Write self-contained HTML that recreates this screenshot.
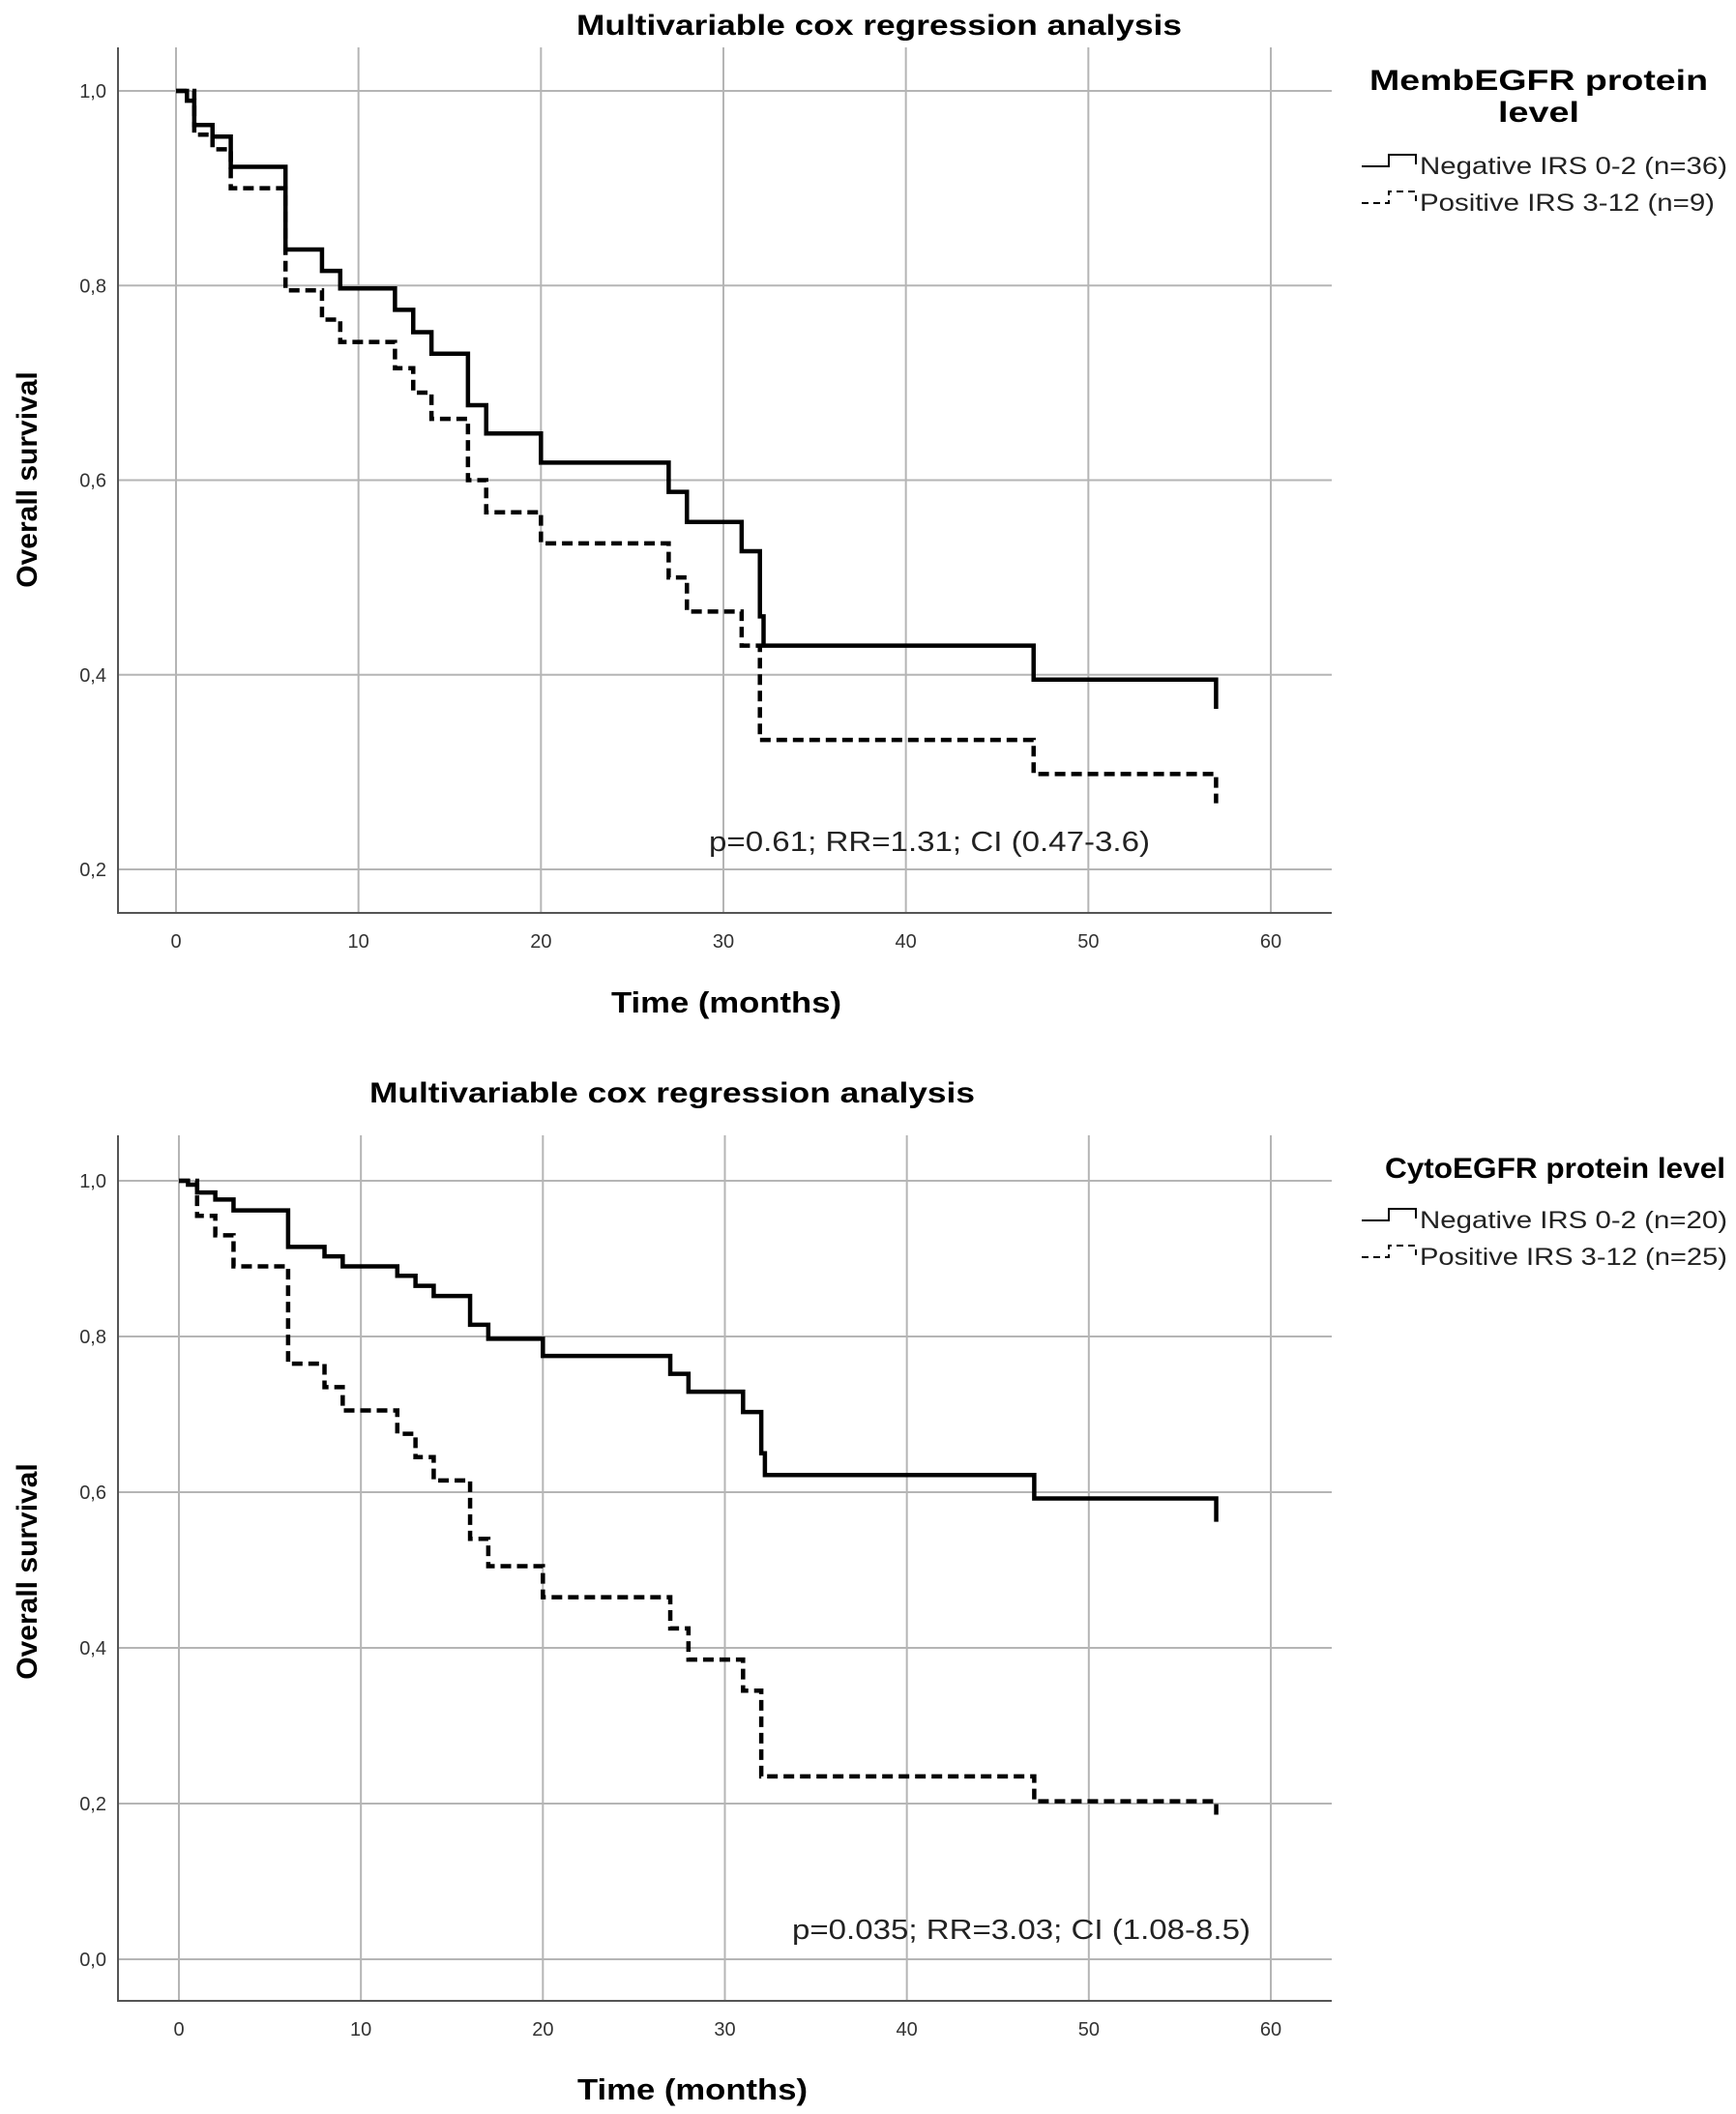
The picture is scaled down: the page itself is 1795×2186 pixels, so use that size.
<!DOCTYPE html>
<html><head><meta charset="utf-8"><style>
html,body{margin:0;padding:0;background:#fff;}
svg{display:block;font-family:"Liberation Sans",sans-serif;}
</style></head><body>
<svg id="chart" width="1795" height="2186" viewBox="0 0 1795 2186" xmlns="http://www.w3.org/2000/svg"></svg>
<script>
const xTicks=[0,10,20,30,40,50,60];
const topYTicks=[0.2,0.4,0.6,0.8,1.0];
const botYTicks=[0.0,0.2,0.4,0.6,0.8,1.0];
const topNegT=[0,0.6,1,2,3,6,8,9,12,13,14,16,17,20,27,28,31,32,32.2,47,57];
const topNegS=[1.0,0.99,0.965,0.953,0.922,0.837,0.815,0.797,0.775,0.752,0.73,0.677,0.648,0.618,0.588,0.557,0.527,0.46,0.43,0.395,0.365];
const topPosT=[0,1,2,3,6,8,9,12,13,14,16,17,20,27,28,31,32,47,57];
const topPosS=[1.0,0.955,0.94,0.90,0.795,0.765,0.742,0.715,0.69,0.663,0.60,0.567,0.535,0.50,0.465,0.43,0.333,0.298,0.268];
const botNegT=[0,0.5,1,2,3,6,8,9,12,13,14,16,17,20,27,28,31,32,32.2,47,57];
const botNegS=[1.0,0.995,0.985,0.976,0.962,0.915,0.903,0.89,0.878,0.865,0.852,0.815,0.797,0.775,0.752,0.729,0.703,0.65,0.622,0.592,0.562];
const botPosT=[0,1,2,3,6,8,9,12,13,14,16,17,20,27,28,31,32,47,57];
const botPosS=[1.0,0.955,0.93,0.89,0.765,0.735,0.705,0.675,0.645,0.615,0.54,0.505,0.465,0.425,0.385,0.345,0.235,0.203,0.185];

const NS="http://www.w3.org/2000/svg";
const svg=document.getElementById('chart');
function mk(tag,attrs,parent){const e=document.createElementNS(NS,tag);for(const k in attrs)e.setAttribute(k,attrs[k]);(parent||svg).appendChild(e);return e;}

function panel(cfg){
  const g=mk('g',{});
  
  
  const sx=t=>cfg.x0+(cfg.x60-cfg.x0)*t/60;
  const sy=v=>cfg.y1+(cfg.y1-cfg.yRef)*(v-1)/(1-cfg.refV);
  xTicks.forEach(t=>{const l=mk('line',{x1:sx(t),x2:sx(t),y1:cfg.top,y2:cfg.bottom,stroke:'#b5b5b5','stroke-width':2},g);
    
    const tx=mk('text',{x:sx(t),y:cfg.bottom+36,'font-size':20,'text-anchor':'middle',fill:'#333'},g);tx.textContent=t;
    });
  cfg.yt.forEach(v=>{const l=mk('line',{x1:cfg.left,x2:cfg.right,y1:sy(v),y2:sy(v),stroke:'#b5b5b5','stroke-width':2},g);
    
    const tx=mk('text',{x:cfg.left-12,y:sy(v)+7,'font-size':20,'text-anchor':'end',fill:'#333'},g);tx.textContent=v.toFixed(1).replace('.',',');
    });
  const ax=mk('path',{d:`M${cfg.left},${cfg.top}V${cfg.bottom}H${cfg.right}`,fill:'none',stroke:'#555','stroke-width':2},g);
  
  function step(T,S,dash,name){let d=`M${sx(T[0])},${sy(S[0])}`;for(let i=1;i<T.length;i++){d+=`H${sx(T[i])}V${sy(S[i])}`;}
    const p=mk('path',{d,fill:'none',stroke:'#000','stroke-width':4.5,'stroke-dasharray':dash||'none'},g);
    }
  step(cfg.nT,cfg.nS,null,'negative-curve');
  step(cfg.pT,cfg.pS,'11 6','positive-curve');
  const ti=mk('text',{x:cfg.titleX,y:cfg.titleY,'font-size':30,'font-weight':'bold','text-anchor':'middle',textLength:cfg.titleLen,lengthAdjust:'spacingAndGlyphs'},g);ti.textContent='Multivariable cox regression analysis';
  
  const xt=mk('text',{x:cfg.xtX,y:cfg.xtY,'font-size':31,'font-weight':'bold','text-anchor':'middle',textLength:238,lengthAdjust:'spacingAndGlyphs'},g);xt.textContent='Time (months)';
  
  const yt=mk('text',{x:0,y:0,'font-size':30,'font-weight':'bold','text-anchor':'middle',transform:`translate(38,${cfg.ytY}) rotate(-90)`},g);yt.textContent='Overall survival';
  
  const an=mk('text',{x:cfg.anX,y:cfg.anY,'font-size':29,textLength:cfg.anLen,lengthAdjust:'spacingAndGlyphs',fill:'#222'},g);an.textContent=cfg.an;
  
  cfg.legTitle.forEach((s,i)=>{const t=mk('text',{x:cfg.legX,y:cfg.legY+i*33,'font-size':30,'font-weight':'bold','text-anchor':'middle',textLength:cfg.legLen[i],lengthAdjust:'spacingAndGlyphs'},g);t.textContent=s;
    });
  cfg.legItems.forEach((s,i)=>{const y=cfg.legItemY+i*38;
    const ic=mk('path',{d:`M1408,${y}H1436V${y-12}H1464V${y-2}`,fill:'none',stroke:'#000','stroke-width':2,'stroke-dasharray':i?'7 5':'none'},g);
    
    const t=mk('text',{x:1468,y:y+8,'font-size':25,textLength:cfg.itemLen[i],lengthAdjust:'spacingAndGlyphs',fill:'#222'},g);t.textContent=s;
    });
}
panel({name:'top-chart',x0:182,x60:1314,y1:94,yRef:899,refV:0.2,top:49,bottom:944,left:122,right:1377,yt:topYTicks,
  nT:topNegT,nS:topNegS,pT:topPosT,pS:topPosS,titleX:909,titleY:36,titleLen:626,xtX:751,xtY:1047,ytY:496,
  an:'p=0.61; RR=1.31; CI (0.47-3.6)',anX:733,anY:880,anLen:456,
  legTitle:['MembEGFR protein','level'],legLen:[350,84],legX:1591,legY:93,legItemY:172,
  legItems:['Negative IRS 0-2 (n=36)','Positive IRS 3-12 (n=9)'],itemLen:[318,305]});
panel({name:'bottom-chart',x0:185,x60:1314,y1:1221,yRef:2026,refV:0.0,top:1174,bottom:2069,left:122,right:1377,yt:botYTicks,
  nT:botNegT,nS:botNegS,pT:botPosT,pS:botPosS,titleX:695,titleY:1140,titleLen:626,xtX:716,xtY:2171,ytY:1625,
  an:'p=0.035; RR=3.03; CI (1.08-8.5)',anX:819,anY:2005,anLen:474,
  legTitle:['CytoEGFR protein level'],legLen:[352],legX:1608,legY:1218,legItemY:1262,
  legItems:['Negative IRS 0-2 (n=20)','Positive IRS 3-12 (n=25)'],itemLen:[318,318]});
</script>
</body></html>
